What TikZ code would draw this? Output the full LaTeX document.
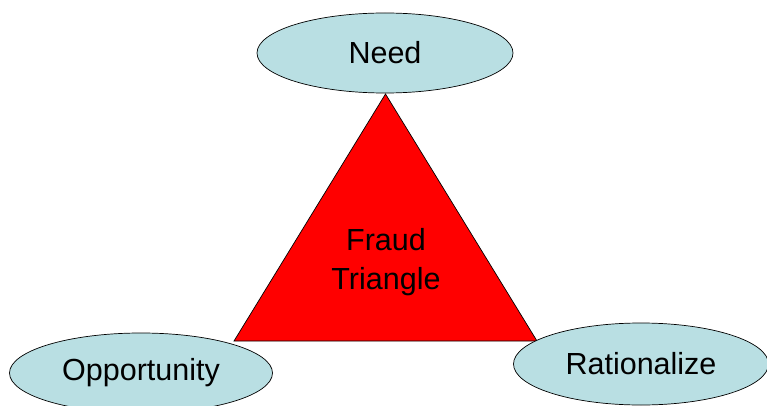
\documentclass[tikz,border=0pt]{standalone}
\usepackage{fontspec}
\setmainfont{Liberation Sans}
\usetikzlibrary{shapes.geometric}
\definecolor{ovalblue}{RGB}{185,223,227}
\definecolor{trired}{RGB}{255,0,0}
\begin{document}
\begin{tikzpicture}[x=1pt,y=-1pt,
  oval/.style={ellipse,draw=black,line width=0.7pt,fill=ovalblue,inner sep=0pt,
    font=\fontsize{30.5}{38}\selectfont},
  label/.style={font=\fontsize{30.5}{39}\selectfont,align=center,inner sep=0pt}]
\useasboundingbox (0,0) rectangle (767,406);
\coordinate (apex) at (385.5,94);
\coordinate (bl) at (234,341);
\coordinate (br) at (537,341);
\draw[fill=trired,line width=0.7pt,line join=miter] (apex) -- (br) -- (bl) -- cycle;
\node[label] (fraud) at (386,262) {Fraud\\Triangle};
\node[oval,minimum width=256pt,minimum height=80pt] (need) at (385,53) {Need};
\node[oval,minimum width=263pt,minimum height=80pt] (opp) at (141,373) {Opportunity};
\node[oval,minimum width=255pt,minimum height=82pt] (rat) at (641,364) {Rationalize};
\end{tikzpicture}
\end{document}
